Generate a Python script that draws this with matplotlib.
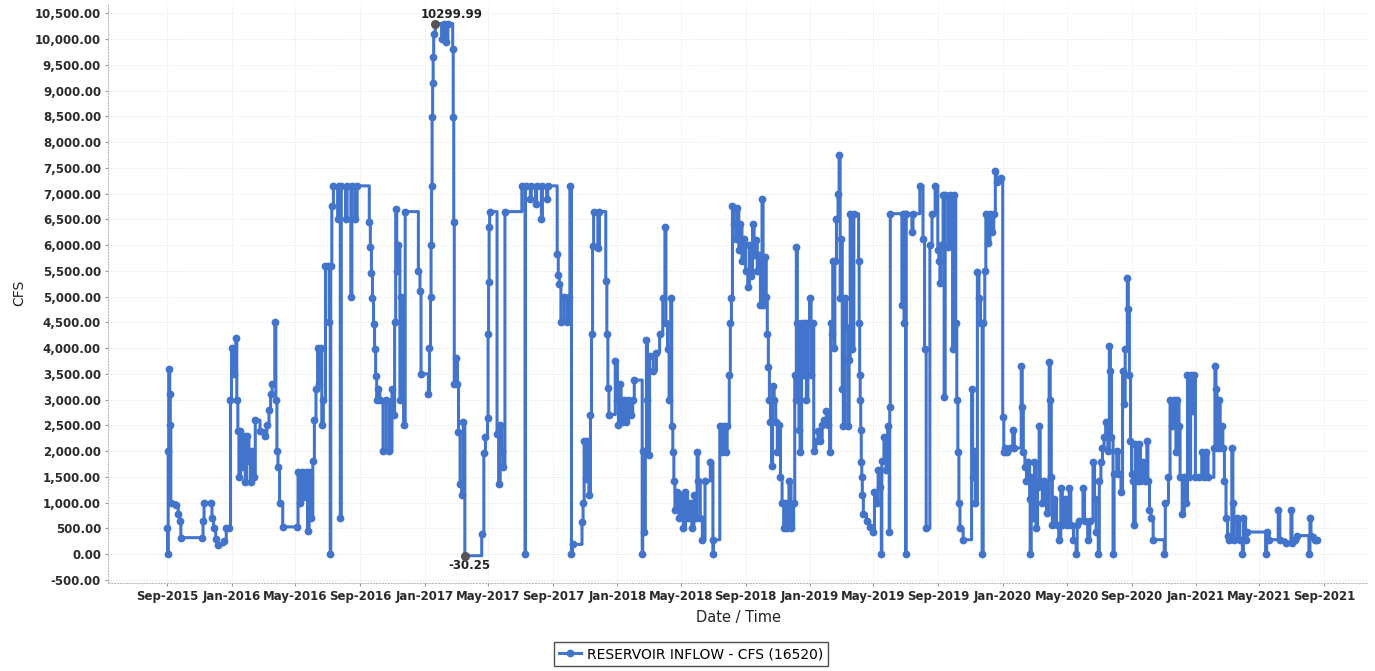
import pandas as pd
import numpy as np
import matplotlib
matplotlib.use('Agg')
import matplotlib.pyplot as plt
import matplotlib.dates as mdates
from matplotlib.ticker import FuncFormatter, MultipleLocator
from matplotlib.lines import Line2D

# reservoir inflow readings (cfs), held until the next reading
dates = [
    '2015-09-01', '2015-09-02', '2015-09-03', '2015-09-04', '2015-09-06', '2015-09-07', '2015-09-08', '2015-09-18',
    '2015-09-22', '2015-09-25', '2015-09-27', '2015-11-07', '2015-11-08', '2015-11-10', '2015-11-24', '2015-11-25',
    '2015-11-28', '2015-12-02', '2015-12-06', '2015-12-18', '2015-12-22', '2015-12-28', '2015-12-30',
    '2016-01-01', '2016-01-05', '2016-01-09', '2016-01-11', '2016-01-13', '2016-01-15', '2016-01-18', '2016-01-21',
    '2016-01-24', '2016-01-27', '2016-01-30', '2016-02-03', '2016-02-06', '2016-02-09', '2016-02-12', '2016-02-15',
    '2016-02-24', '2016-03-04', '2016-03-08', '2016-03-12', '2016-03-15', '2016-03-18', '2016-03-23', '2016-03-25',
    '2016-03-27', '2016-03-29', '2016-04-01', '2016-04-07', '2016-05-04', '2016-05-06', '2016-05-09', '2016-05-13',
    '2016-05-17', '2016-05-21', '2016-05-24', '2016-05-27', '2016-05-31', '2016-06-03', '2016-06-06', '2016-06-09',
    '2016-06-12', '2016-06-15', '2016-06-18', '2016-06-20', '2016-06-23', '2016-06-27', '2016-07-02', '2016-07-04',
    '2016-07-06', '2016-07-07', '2016-07-09', '2016-07-12', '2016-07-20', '2016-07-22', '2016-07-25', '2016-07-27',
    '2016-08-04', '2016-08-07', '2016-08-14', '2016-08-16', '2016-08-22', '2016-08-26', '2016-09-18', '2016-09-20',
    '2016-09-22', '2016-09-24', '2016-09-26', '2016-09-28', '2016-09-30', '2016-10-02', '2016-10-05', '2016-10-08',
    '2016-10-14', '2016-10-20', '2016-10-26', '2016-10-31', '2016-11-03', '2016-11-05', '2016-11-07', '2016-11-09',
    '2016-11-12', '2016-11-15', '2016-11-18', '2016-11-22', '2016-11-25', '2016-12-20', '2016-12-23', '2016-12-25',
    '2017-01-08', '2017-01-10', '2017-01-12', '2017-01-13', '2017-01-14', '2017-01-15', '2017-01-16', '2017-01-17',
    '2017-01-18', '2017-01-21', '2017-02-02', '2017-02-06', '2017-02-10', '2017-02-14', '2017-02-23', '2017-02-24',
    '2017-02-25', '2017-02-26', '2017-03-02', '2017-03-04', '2017-03-06', '2017-03-09', '2017-03-12', '2017-03-15',
    '2017-03-18', '2017-04-19', '2017-04-23', '2017-04-26', '2017-04-30', '2017-05-01', '2017-05-02', '2017-05-03',
    '2017-05-04', '2017-05-18', '2017-05-21', '2017-05-24', '2017-05-27', '2017-05-30', '2017-06-02', '2017-07-04',
    '2017-07-10', '2017-07-11', '2017-07-20', '2017-07-22', '2017-07-30', '2017-08-01', '2017-08-10', '2017-08-12',
    '2017-08-20', '2017-08-22', '2017-09-09', '2017-09-11', '2017-09-13', '2017-09-16', '2017-09-22', '2017-09-28',
    '2017-10-01', '2017-10-03', '2017-10-06', '2017-10-08', '2017-10-26', '2017-10-28', '2017-10-30', '2017-11-02',
    '2017-11-05', '2017-11-08', '2017-11-11', '2017-11-13', '2017-11-15', '2017-11-17', '2017-11-25', '2017-11-28',
    '2017-12-10', '2017-12-12', '2017-12-14', '2017-12-16', '2017-12-28',
    '2018-01-01', '2018-01-03', '2018-01-06', '2018-01-08', '2018-01-10', '2018-01-14', '2018-01-18', '2018-01-22',
    '2018-01-26', '2018-01-30', '2018-02-02', '2018-02-17', '2018-02-18', '2018-02-21', '2018-02-23', '2018-02-25',
    '2018-02-27', '2018-03-01', '2018-03-03', '2018-03-10', '2018-03-16', '2018-03-22', '2018-03-28', '2018-04-01',
    '2018-04-03', '2018-04-06', '2018-04-09', '2018-04-12', '2018-04-14', '2018-04-16', '2018-04-18', '2018-04-20',
    '2018-04-24', '2018-04-28', '2018-05-02', '2018-05-06', '2018-05-10', '2018-05-14', '2018-05-18', '2018-05-22',
    '2018-05-26', '2018-05-30', '2018-06-01', '2018-06-03', '2018-06-07', '2018-06-11', '2018-06-16', '2018-06-26',
    '2018-07-01', '2018-07-02', '2018-07-14', '2018-07-18', '2018-07-22', '2018-07-26', '2018-07-28', '2018-08-01',
    '2018-08-03', '2018-08-05', '2018-08-07', '2018-08-10', '2018-08-13', '2018-08-16', '2018-08-19', '2018-08-22',
    '2018-08-25', '2018-08-28', '2018-09-01', '2018-09-05', '2018-09-08', '2018-09-11', '2018-09-14', '2018-09-17',
    '2018-09-20', '2018-09-23', '2018-09-26', '2018-09-29', '2018-10-02', '2018-10-04', '2018-10-07', '2018-10-10',
    '2018-10-12', '2018-10-14', '2018-10-16', '2018-10-18', '2018-10-20', '2018-10-22', '2018-10-25', '2018-10-28',
    '2018-10-31', '2018-11-03', '2018-11-06', '2018-11-09', '2018-11-12', '2018-11-15', '2018-11-18', '2018-11-22',
    '2018-11-26', '2018-12-01', '2018-12-03', '2018-12-05', '2018-12-06', '2018-12-08', '2018-12-11', '2018-12-13',
    '2018-12-16', '2018-12-19', '2018-12-22', '2018-12-25', '2018-12-28', '2018-12-31',
    '2019-01-03', '2019-01-06', '2019-01-08', '2019-01-12', '2019-01-16', '2019-01-20', '2019-01-24', '2019-01-28',
    '2019-02-01', '2019-02-04', '2019-02-07', '2019-02-09', '2019-02-11', '2019-02-13', '2019-02-15', '2019-02-17',
    '2019-02-20', '2019-02-23', '2019-02-25', '2019-02-27', '2019-03-01', '2019-03-03', '2019-03-05', '2019-03-08',
    '2019-03-11', '2019-03-14', '2019-03-16', '2019-03-18', '2019-03-22', '2019-03-25', '2019-04-03', '2019-04-04',
    '2019-04-05', '2019-04-06', '2019-04-07', '2019-04-08', '2019-04-09', '2019-04-10', '2019-04-12', '2019-04-18',
    '2019-04-24', '2019-04-30', '2019-05-03', '2019-05-07', '2019-05-10', '2019-05-14', '2019-05-16', '2019-05-17',
    '2019-05-21', '2019-05-25', '2019-05-28', '2019-05-31', '2019-06-01', '2019-06-02', '2019-06-24', '2019-06-26',
    '2019-06-28', '2019-06-30', '2019-07-01', '2019-07-02', '2019-07-13', '2019-07-15', '2019-07-28', '2019-08-03',
    '2019-08-06', '2019-08-09', '2019-08-16', '2019-08-20', '2019-08-26', '2019-08-31', '2019-09-02', '2019-09-04',
    '2019-09-06', '2019-09-10', '2019-09-12', '2019-09-14', '2019-09-20', '2019-09-24', '2019-09-28', '2019-10-01',
    '2019-10-04', '2019-10-06', '2019-10-08', '2019-10-10', '2019-10-12', '2019-10-18', '2019-11-03', '2019-11-05',
    '2019-11-08', '2019-11-10', '2019-11-14', '2019-11-17', '2019-11-20', '2019-11-23', '2019-11-25', '2019-11-28',
    '2019-11-30', '2019-12-04', '2019-12-08', '2019-12-12', '2019-12-15', '2019-12-18', '2019-12-21', '2019-12-28',
    '2020-01-01', '2020-01-03', '2020-01-05', '2020-01-10', '2020-01-15', '2020-01-20', '2020-01-23', '2020-02-05',
    '2020-02-07', '2020-02-09', '2020-02-12', '2020-02-15', '2020-02-18', '2020-02-21', '2020-02-22', '2020-02-24',
    '2020-02-27', '2020-03-01', '2020-03-04', '2020-03-07', '2020-03-10', '2020-03-12', '2020-03-16', '2020-03-20',
    '2020-03-24', '2020-03-29', '2020-03-31', '2020-04-02', '2020-04-04', '2020-04-08', '2020-04-12', '2020-04-16',
    '2020-04-20', '2020-04-23', '2020-04-28', '2020-05-02', '2020-05-06', '2020-05-09', '2020-05-14', '2020-05-19',
    '2020-05-21', '2020-05-25', '2020-06-01', '2020-06-04', '2020-06-10', '2020-06-14', '2020-06-20', '2020-06-23',
    '2020-06-26', '2020-06-30', '2020-07-02', '2020-07-05', '2020-07-08', '2020-07-11', '2020-07-14', '2020-07-18',
    '2020-07-21', '2020-07-23', '2020-07-25', '2020-07-28', '2020-07-30', '2020-08-04', '2020-08-08', '2020-08-12',
    '2020-08-15', '2020-08-17', '2020-08-20', '2020-08-24', '2020-08-26', '2020-08-28', '2020-08-30', '2020-09-01',
    '2020-09-03', '2020-09-05', '2020-09-08', '2020-09-11', '2020-09-15', '2020-09-18', '2020-09-22', '2020-09-26',
    '2020-09-30', '2020-10-02', '2020-10-05', '2020-10-08', '2020-10-12', '2020-11-02', '2020-11-04', '2020-11-10',
    '2020-11-13', '2020-11-17', '2020-11-20', '2020-11-24', '2020-11-27', '2020-11-30', '2020-12-02', '2020-12-06',
    '2020-12-10', '2020-12-13', '2020-12-16', '2020-12-19', '2020-12-22', '2020-12-25', '2020-12-28', '2020-12-31',
    '2021-01-06', '2021-01-12', '2021-01-16', '2021-01-20', '2021-01-24', '2021-02-04', '2021-02-06', '2021-02-08',
    '2021-02-10', '2021-02-13', '2021-02-16', '2021-02-19', '2021-02-21', '2021-02-24', '2021-02-27', '2021-03-02',
    '2021-03-05', '2021-03-10', '2021-03-12', '2021-03-14', '2021-03-20', '2021-03-25', '2021-03-30', '2021-04-01',
    '2021-04-05', '2021-04-08', '2021-05-13', '2021-05-15', '2021-05-20', '2021-06-06', '2021-06-09', '2021-06-20',
    '2021-06-30', '2021-07-02', '2021-07-08', '2021-07-11', '2021-08-03', '2021-08-05', '2021-08-07', '2021-08-15',
    '2021-08-18',
]

inflow = [
    500, 0, 2000, 3600, 3100, 2500, 1000, 950,
    780, 640, 320, 320, 650, 1000, 1000, 700,
    500, 300, 180, 250, 500, 500, 3000,
    4000, 3500, 4200, 3000, 2400, 1500, 2400, 1700,
    2300, 1400, 2300, 1800, 1400, 2000, 1500, 2600,
    2400, 2300, 2500, 2800, 3100, 3300, 4500, 3000,
    2000, 1700, 1000, 530, 530, 1600, 1000, 1600,
    1100, 1600, 450, 1600, 700, 1800, 2600, 3200,
    4000, 3300, 4000, 2500, 3000, 5600, 5600, 4500,
    0, 5600, 6750, 7150, 6500, 7150, 700, 7150,
    6500, 7150, 5000, 7150, 6500, 7150, 6450, 5970,
    5450, 4970, 4460, 3980, 3460, 3000, 3200, 3000,
    2000, 3000, 2000, 3200, 2700, 4500, 6700, 5500,
    6000, 3000, 5000, 2500, 6650, 5500, 5100, 3500,
    3100, 4000, 5000, 6000, 7150, 8480, 9140, 9650,
    10100, 10299.99, 10000, 10299.99, 9950, 10299.99, 9800, 8480,
    6450, 3300, 3800, 3300, 2380, 1370, 1150, 2560,
    -30.25, 400, 1970, 2270, 2640, 4270, 5280, 6350,
    6650, 2340, 1370, 2500, 2000, 1700, 6650, 7150,
    0, 7150, 6900, 7150, 6800, 7150, 6500, 7150,
    6900, 7150, 5830, 5420, 5240, 4500, 5000, 4500,
    5000, 7150, 0, 190, 630, 1000, 2200, 1450,
    2200, 1150, 2710, 4270, 5980, 6650, 5950, 6650,
    5310, 4270, 3230, 2710, 3750,
    3000, 2500, 3300, 2990, 2560, 2990, 2560, 2990,
    2700, 2990, 3380, 0, 2000, 430, 2000, 4160,
    2990, 1920, 3840, 3560, 3910, 4270, 4980, 6360,
    4480, 3980, 2990, 4980, 2490, 1990, 1420, 850,
    1210, 710, 1140, 500, 1210, 710, 1000, 500,
    1140, 700, 1990, 1420, 710, 280, 1420, 1780,
    0, 280, 2490, 1990, 2490, 1990, 2490, 3480,
    4480, 4980, 6750, 6400, 6110, 6720, 5900, 6400,
    5690, 6110, 5500, 5190, 6000, 5400, 6400, 5800,
    6100, 5500, 5800, 4840, 6900, 4840, 5760, 5000,
    4270, 3630, 2990, 2560, 1710, 3270, 2990, 2560,
    1990, 2500, 1490, 1000, 500, 1000, 500, 1420,
    500, 1000, 3480, 2990, 5970, 4480, 2420, 1990,
    4480, 3480, 4480, 2990, 4480, 4980,
    3480, 4480, 2000, 2200, 2400, 2200, 2500, 2600,
    2770, 2500, 1990, 4480, 4270, 5690, 4000, 5690,
    6500, 7000, 7750, 4980, 6110, 3200, 2490, 4980,
    4410, 2490, 3770, 6610, 3980, 6610, 5690, 4480,
    3480, 2990, 2420, 1780, 1490, 1140, 780, 640,
    530, 430, 1210, 1000, 1640, 1300, 0, 1800,
    2280, 1640, 2490, 430, 2850, 6610, 4840, 6610,
    4480, 6610, 0, 6610, 6260, 6610, 7150, 6110,
    3980, 500, 6000, 6610, 7150, 5900, 5690, 5260,
    6000, 6970, 3060, 6970, 5970, 6970, 3980, 6970,
    4480, 2990, 1990, 1000, 500, 280, 3200, 1500,
    2000, 1000, 5470, 4980, 4480, 0, 4480, 5500,
    6610, 6040, 6610, 6260, 6610, 7430, 7220, 7300,
    2670, 1990, 2060, 1990, 2060, 2420, 2060, 3660,
    2850, 1990, 1700, 1420, 1780, 1070, 0, 1500,
    710, 1780, 500, 1300, 2490, 1420, 1000, 1420,
    800, 3730, 2990, 1500, 570, 1070, 570, 280,
    1280, 570, 1070, 570, 1280, 570, 280, 0,
    570, 640, 1280, 640, 280, 640, 1780, 1070,
    430, 0, 1420, 1780, 2060, 2280, 2560, 2000,
    4050, 3560, 2280, 0, 1560, 2000, 1560, 1210,
    3560, 2920, 3980, 5370, 4760, 3480, 2200, 1560,
    1420, 570, 2130, 1420, 2130, 1420, 1780, 1420,
    2200, 1420, 850, 710, 280, 0, 1000, 1490,
    2990, 2490, 2990, 1990, 2990, 2490, 1490, 780,
    1490, 1000, 3480, 1490, 3480, 2770, 3480, 1490,
    1490, 1990, 1490, 1990, 1490, 2060, 3660, 3200,
    2060, 3000, 2060, 2490, 2060, 1420, 700, 360,
    280, 2060, 1000, 280, 710, 280, 0, 710,
    280, 430, 0, 430, 280, 850, 280, 210,
    850, 210, 280, 360, 0, 710, 360, 280,
    280,
]

series_label = 'RESERVOIR INFLOW - CFS (16520)'
tick_months = [1, 5, 9]
blue = '#4274cc'

df = pd.DataFrame({'date': pd.to_datetime(dates), 'cfs': inflow})

fig = plt.figure(figsize=(13.75, 6.71), dpi=100)
ax = fig.add_axes([108 / 1375, 1 - 583 / 671, 1260 / 1375, 580 / 671])

ax.plot(df['date'], df['cfs'], drawstyle='steps-post', color=blue, lw=2.2,
        marker='o', markersize=4.6, markerfacecolor=blue, markeredgecolor=blue, zorder=3)

# highlight and label the highest and lowest readings
i_max = df['cfs'].idxmax()
i_min = df['cfs'].idxmin()
for i, off, va in [(i_max, (16, 3), 'bottom'), (i_min, (5, -3), 'top')]:
    d, v = df.loc[i, 'date'], df.loc[i, 'cfs']
    ax.plot([d], [v], 'o', color='#555555', markersize=5.5, zorder=4)
    ax.annotate(f'{v:.2f}', (d, v), xytext=off, textcoords='offset pixels',
                ha='center', va=va, fontsize=8.5, fontweight='bold', color='#222222')

ax.set_xlim(pd.Timestamp('2015-05-12'), pd.Timestamp('2021-11-23'))
ax.set_ylim(-560, 10700)
ax.yaxis.set_major_locator(MultipleLocator(500))
ax.yaxis.set_major_formatter(FuncFormatter(lambda v, p: f'{v:,.2f}'))
ax.xaxis.set_major_locator(mdates.MonthLocator(bymonth=tick_months))
ax.xaxis.set_major_formatter(mdates.DateFormatter('%b-%Y'))

ax.grid(True, color='#e4e4e4', ls=':', lw=0.7)
ax.set_axisbelow(True)
for s in ['top', 'right']:
    ax.spines[s].set_visible(False)
for s in ['left', 'bottom']:
    ax.spines[s].set_color('#bdbdbd')
    ax.spines[s].set_linestyle(':')
ax.tick_params(length=2, color='#999999', pad=3, labelsize=8.5, labelcolor='#2a2a2a')
for lab in ax.get_xticklabels() + ax.get_yticklabels():
    lab.set_fontweight('bold')

ax.set_xlabel('Date / Time', fontsize=10.5, color='#222222', labelpad=5)
ax.set_ylabel('CFS', fontsize=10, color='#222222', labelpad=6)

handle = Line2D([], [], color=blue, lw=2.2, marker='o', markersize=4.6)
leg = fig.legend([handle], [series_label], loc='center', bbox_to_anchor=(691 / 1375, 1 - 654 / 671),
                 fontsize=10, frameon=True, fancybox=False, handlelength=1.6, handletextpad=0.4,
                 borderpad=0.35, borderaxespad=0)
leg.get_frame().set_edgecolor('#222222')
leg.get_frame().set_linewidth(1.0)

fig.savefig('out.png', dpi=100, facecolor='white')
